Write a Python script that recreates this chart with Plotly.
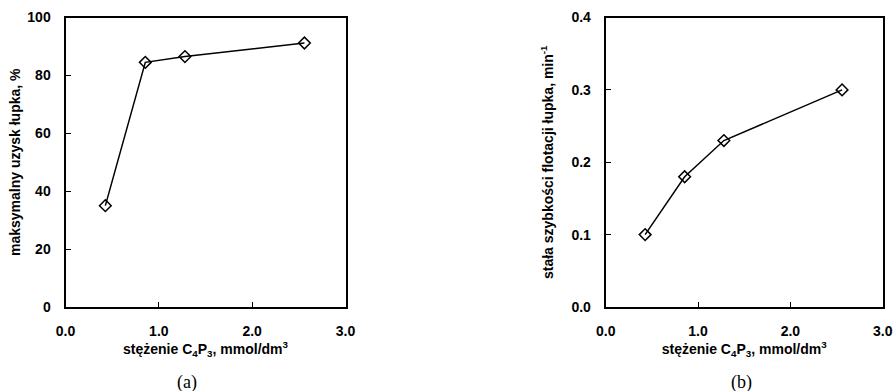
import plotly.graph_objects as go

conc = [0.427, 0.855, 1.28, 2.56]
recovery = [35.0, 84.5, 86.5, 91.2]
rate_const = [0.10, 0.18, 0.23, 0.30]

x_ticks = [0, 1, 2, 3]
x_ticklabels = ["0.0", "1.0", "2.0", "3.0"]
ya_ticks = [0, 20, 40, 60, 80, 100]
yb_ticks = [0, 0.1, 0.2, 0.3, 0.4]
yb_ticklabels = ["0.0", "0.1", "0.2", "0.3", "0.4"]

x_title = "stężenie C<sub>4</sub>P<sub>3</sub>, mmol/dm<sup>3</sup>"
y_title_a = "maksymalny uzysk łupka, %"
y_title_b = "stała szybkości flotacji łupka, min<sup>-1</sup>"

W, H = 895, 391
FM = "Liberation Sans, Arial, sans-serif"
bold14 = dict(family=FM, size=14, color="black", weight="bold")

fig = go.Figure()
line_style = dict(color="black", width=1.5)
marker_style = dict(symbol="diamond-open", size=9, color="black", line=dict(width=1.5, color="black"))

fig.add_trace(go.Scatter(x=conc, y=recovery, mode="lines+markers", line=line_style,
                         marker=marker_style, xaxis="x", yaxis="y", showlegend=False))
fig.add_trace(go.Scatter(x=conc, y=rate_const, mode="lines+markers", line=line_style,
                         marker=marker_style, xaxis="x2", yaxis="y2", showlegend=False))

ydom = [1 - 307 / H, 1 - 17.5 / H]
axis_common = dict(showgrid=False, zeroline=False, showline=True, linecolor="black", linewidth=2,
                   mirror=True, ticks="inside", ticklen=5, tickwidth=1, tickcolor="black",
                   tickfont=bold14, automargin=False)

xt = dict(range=[0, 3], tickvals=x_ticks, ticktext=x_ticklabels, ticklabelstandoff=10,
          title=dict(text=x_title, font=bold14, standoff=5))

fig.update_layout(
    width=W, height=H, margin=dict(l=0, r=0, t=0, b=0),
    paper_bgcolor="white", plot_bgcolor="white",
    font=dict(family=FM, size=14, color="black"),
    xaxis=dict(domain=[65.5 / W, 345.5 / W], anchor="y", **xt, **axis_common),
    yaxis=dict(domain=ydom, anchor="x", range=[0, 100], tickvals=ya_ticks, ticklabelstandoff=10,
               title=dict(text=y_title_a, font=bold14, standoff=3), **axis_common),
    xaxis2=dict(domain=[605.7 / W, 882.7 / W], anchor="y2", **xt, **axis_common),
    yaxis2=dict(domain=ydom, anchor="x2", range=[0, 0.4], tickvals=yb_ticks, ticktext=yb_ticklabels,
                ticklabelstandoff=10,
                title=dict(text=y_title_b, font=bold14, standoff=15), **axis_common),
)

for txt, xc in [("(a)", 187 / W), ("(b)", 741 / W)]:
    fig.add_annotation(text=txt, x=xc, y=1 - 382 / H, xref="paper", yref="paper", showarrow=False,
                       font=dict(family="Liberation Serif, Times New Roman, serif", size=18, color="black"),
                       xanchor="center", yanchor="middle")

fig.write_html("out.html", config={"displayModeBar": False},
               post_script="document.body.style.margin='0';document.body.style.overflow='hidden';")
